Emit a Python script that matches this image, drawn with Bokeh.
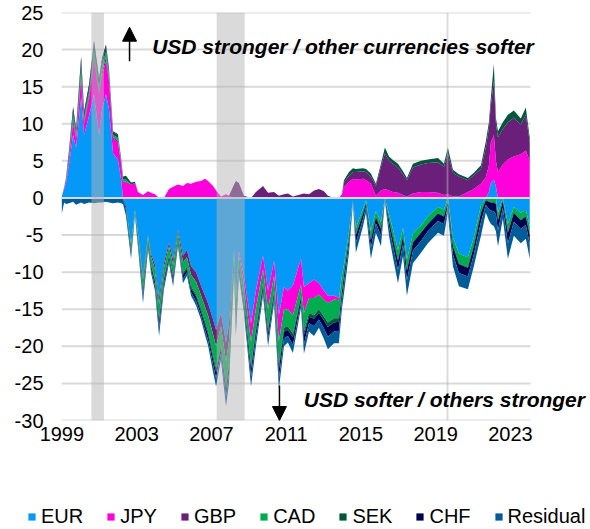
import numpy as np
from bokeh.plotting import figure
from bokeh.layouts import column
from bokeh.models import (Range1d, FixedTicker, Label, Arrow, NormalHead, Legend,
                          LegendItem, ColumnDataSource)
from bokeh.embed import file_html
from bokeh.resources import INLINE

# ---------------- data ----------------
t = [1999.61, 1999.74, 1999.84, 2000.00, 2000.22, 2000.38, 2000.65, 2000.81, 2001.07, 2001.34,
     2001.61, 2001.77, 2001.98, 2002.14, 2002.36, 2002.62, 2002.79, 2002.89,
     2003.05, 2003.32, 2003.53, 2003.69, 2003.96, 2004.23, 2004.39, 2004.60, 2004.82, 2005.08,
     2005.35, 2005.57, 2005.83, 2006.10, 2006.31, 2006.53, 2006.80, 2007.06, 2007.28, 2007.44,
     2007.71, 2007.87, 2008.13, 2008.40, 2008.56, 2008.83, 2008.93, 2009.09, 2009.36, 2009.74,
     2010.00, 2010.38, 2010.65, 2010.97, 2011.23, 2011.50, 2011.71, 2011.98, 2012.41, 2012.57,
     2012.84, 2013.11, 2013.37, 2013.64, 2013.85, 2014.18, 2014.44, 2014.60,
     2014.71, 2014.98, 2015.19, 2015.35, 2015.73, 2015.89, 2016.15, 2016.42, 2016.69, 2016.90,
     2017.12, 2017.33, 2017.60, 2017.87, 2018.08, 2018.40, 2018.83, 2019.20, 2019.74, 2020.06,
     2020.27, 2020.54, 2020.86, 2021.34, 2021.66, 2022.04, 2022.30, 2022.46, 2022.57, 2022.73,
     2022.84, 2022.95, 2023.21, 2023.48, 2023.80, 2024.17, 2024.44, 2024.65]

eur = [0.2, 1.2, 2.0, 4.5, 8.5, 6.8, 13.5, 8.5, 11.0, 14.0, 8.5, 12.0, 14.0, 12.0, 6.0, 5.2, 2.5, 0.0,
       -1.2, -6.3, -1.6, -4.8, -10.5, -5.0, -7.5, -9.0, -13.5, -8.8, -6.0, -8.3, -4.3, -7.8, -7.0, -9.2,
       -10.0, -11.8, -13.2, -14.2, -16.4, -17.8, -15.5, -19.5, -17.0, -7.0, -14.0, -7.2, -10.5, -16.9,
       -12.5, -7.8, -12.5, -8.5, -15.8, -12.0, -12.5, -11.8, -8.2, -12.0, -11.5, -11.0, -11.5, -12.5,
       -13.2, -13.2, -13.5, -10.5,
       -9.0, -4.5, -0.3, -4.0, -1.5, -0.3, -4.5, -1.8, -3.2, 0.0, -2.2, -4.2, -7.0, -4.0, -8.3, -4.8,
       -3.7, -2.5, -1.2, -1.6, 0.0, -5.3, -7.5, -8.0, -5.3, -1.0, 0.0, 0.8, 2.0, 2.5, 1.5, -2.0, 0.0,
       -3.5, -1.2, -2.0, -1.6, -3.8]

jpy = [0.0, 0.2, 0.4, 0.8, 1.5, 1.2, 2.5, 1.5, 2.2, 4.5, 5.5, 4.5, 4.5, 3.8, 2.0, 2.3, 2.2, 2.2,
       2.2, 1.8, 2.0, 0.8, 0.4, 0.9, 0.7, 0.5, 0.0, 0.0, 1.2, 1.5, 1.8, 1.6, 2.0, 1.9, 2.2, 2.3, 2.6,
       2.3, 1.6, 1.0, 0.2, 0.5, 0.3, 0.0, 0.0, -0.5, -1.2, -2.5, -2.4, -1.8, -2.5, -2.0, -3.5, -3.0,
       -2.5, -4.0, -3.5, -3.5, -2.0, -2.5, -1.5, -1.2, -1.0, -0.5, -0.3, 0.5,
       1.5, 2.2, 2.6, 2.5, 2.6, 2.4, 1.9, 0.3, 1.0, 1.2, 1.0, 0.8, 0.7, 0.4, 0.2, 0.6, 0.8, 0.8, 0.7,
       0.4, 0.5, 0.2, 0.2, 0.8, 1.2, 1.9, 2.8, 3.5, 5.5, 6.0, 3.5, 3.5, 4.5, 5.2, 5.6, 5.9, 6.4, 5.0]

gbp = [0, 0, 0, 0.2, 0.5, 0.3, 0.6, 0.3, 0.4, 0.6, 0.4, 0.5, 0.5, 0.4, 0.2, 0.2, 0, 0,
       0, 0, 0, 0, -0.5, -0.2, -0.4, -0.6, -0.8, -0.6, -0.5, -0.7, -0.4, -0.9, -1.0, -1.2, -1.3, -1.3,
       -1.5, -1.6, -2.0, -2.2, -1.8, -2.5, -2.2, 1.8, 2.3, 2.0, 0.3, 0.0, 0.8, 1.6, 0.7, 0.8, 0.3, 0.5,
       0.6, 0.2, 0.5, 0.6, 0.5, 1.0, 1.2, 0.9, 0.3, 0.0, 0.0, 0.0,
       0.6, 0.8, 0.9, 1.0, 1.0, 1.1, 1.0, 1.3, 3.2, 4.8, 4.0, 3.8, 3.4, 2.8, 2.2, 3.5, 3.7, 3.9, 4.1,
       3.8, 5.5, 3.2, 2.7, 1.6, 1.9, 2.0, 4.0, 5.0, 5.0, 7.3, 5.0, 4.7, 4.8, 5.0, 5.2, 4.0, 4.8, 2.5]

cad = [0, 0, 0.1, 0.3, 0.6, 0.4, 0.8, 0.5, 0.6, 0.8, 0.6, 0.8, 0.7, 0.6, 0.3, 0.4, 0.3, 0.3,
       0.3, -0.8, -0.4, -0.8, -1.5, -0.8, -1.1, -1.4, -2.0, -1.4, -1.2, -1.5, -0.9, -1.4, -1.3, -1.5,
       -1.7, -1.8, -2.0, -2.2, -2.8, -3.0, -2.5, -3.3, -3.0, -1.5, -2.4, -1.4, -2.0, -3.2, -2.7, -1.9,
       -2.7, -2.0, -3.2, -2.5, -2.3, -2.5, -1.5, -2.5, -2.0, -2.3, -2.0, -2.3, -2.6, -2.5, -2.4, -1.8,
       -1.5, -1.0, -0.1, -1.0, -0.6, -0.4, -1.2, -0.8, -1.0, -0.1, -0.8, -1.2, -1.5, -1.2, -1.5, -1.2,
       -1.0, -1.0, -0.9, -0.9, -0.5, -1.2, -1.4, -1.4, -1.2, -1.0, -0.3, -0.5, -0.6, -0.6, -0.8, -1.0,
       -0.4, -1.2, -0.8, -1.0, -0.9, -1.2]

sek = [0, 0, 0.1, 0.3, 0.6, 0.4, 0.9, 0.5, 0.6, 0.8, 0.7, 0.7, 0.7, 0.5, 0.4, 0.4, 0.4, 0.4,
       0.5, 0.3, 0.2, -0.1, -0.3, -0.2, -0.2, -0.3, -0.4, -0.3, -0.2, -0.3, -0.2, -0.3, -0.3, -0.3,
       -0.3, -0.4, -0.4, -0.4, -0.5, -0.5, -0.4, -0.6, -0.5, -0.3, -0.4, -0.3, -0.4, -0.5, -0.5, -0.4,
       -0.5, -0.4, -0.6, -0.5, -0.5, -0.5, -0.3, -0.5, -0.5, -0.5, -0.5, -0.5, -0.6, -0.6, -0.5, -0.4,
       0.3, 0.5, 0.5, 0.4, 0.4, 0.4, 0.4, 0.3, 0.4, 0.8, 0.6, 0.5, 0.5, 0.4, 0.3, 0.5, 0.5, 0.5, 0.6,
       0.4, 0.8, 0.4, 0.3, 0.3, 0.3, 0.5, 0.8, 0.8, 1.0, 2.3, 0.8, 0.8, 0.9, 1.0, 1.0, 0.8, 1.0, 0.6]

chf = [0, 0, 0.1, 0.3, 0.6, 0.3, 0.8, 0.4, 0.5, 0.5, 0.4, 0.4, 0.3, 0.2, 0.1, 0.1, 0, 0,
       -0.4, -0.4, -0.2, -0.4, -0.6, -0.3, -0.4, -0.5, -0.8, -0.5, -0.4, -0.5, -0.3, -0.5, -0.4, -0.5,
       -0.6, -0.5, -0.7, -0.7, -0.8, -0.8, -0.7, -0.9, -0.9, -0.6, -0.8, -0.5, -0.6, -1.0, -0.8, -0.6,
       -0.8, -0.6, -1.2, -0.9, -0.8, -1.0, -0.6, -1.2, -0.9, -1.0, -0.9, -1.1, -1.3, -1.2, -1.2, -1.0,
       -1.0, -0.8, -0.1, -1.0, -0.7, -0.5, -1.0, -0.8, -0.9, -0.1, -0.8, -1.0, -1.2, -1.0, -1.3, -1.1,
       -1.1, -1.0, -1.0, -1.0, -0.6, -1.1, -1.2, -1.2, -1.1, -1.2, -0.6, -1.0, -1.1, -1.2, -1.4, -1.4,
       -0.9, -1.4, -1.2, -1.2, -1.1, -1.2]

res = [-2.2, -0.6, -0.8, -0.7, -0.5, -0.9, -0.6, -0.8, -0.6, -0.7, -0.6, -0.6, -0.5, -0.6, -0.7, -0.6, -0.7, -0.8,
       -0.8, -0.7, -0.2, -0.5, -0.8, -0.4, -0.5, -0.7, -1.1, -0.7, -0.5, -0.6, -0.4, -0.6, -0.5, -0.5,
       -0.6, -0.6, -0.7, -0.8, -1.0, -1.1, -0.9, -1.3, -1.4, -0.7, -1.0, -0.6, -0.8, -1.3, -1.1, -0.7,
       -1.0, -0.7, -1.5, -1.1, -0.9, -1.1, -0.7, -1.3, -1.1, -1.3, -1.1, -1.4, -1.7, -1.6, -1.7, -1.3,
       -1.4, -1.1, -0.2, -1.4, -1.0, -0.8, -1.5, -1.3, -1.4, -0.2, -1.3, -1.6, -1.8, -1.6, -2.1, -1.7,
       -1.6, -1.6, -1.6, -1.6, -0.9, -1.6, -1.8, -1.7, -1.6, -1.9, -1.1, -1.5, -1.8, -2.0, -2.3, -2.1,
       -1.5, -2.1, -1.9, -1.9, -1.9, -2.0]

series_names = ["EUR", "JPY", "GBP", "CAD", "SEK", "CHF", "Residual"]
series_vals = [eur, jpy, gbp, cad, sek, chf, res]
series_colors = ["#0599f7", "#ff00dc", "#6a1f7a", "#00ad4e", "#00573a", "#00004f", "#005b99"]

# US recessions (shaded)
rec_start = [2001.20, 2007.90, 2020.20]
rec_end = [2001.87, 2009.40, 2020.30]

y_ticks = [-30, -25, -20, -15, -10, -5, 0, 5, 10, 15, 20, 25]
x_tick_years = [1999, 2003, 2007, 2011, 2015, 2019, 2023]

for s in series_vals:
    assert len(s) == len(t), len(s)

# ---------------- main figure ----------------
FONT = "Liberation Sans"
LABEL_OFFSET = 0.62      # year labels sit near mid-year
X_START = 1999.60        # left edge of plot area
GRID_END = 2024.69       # right end of the plotted period / gridlines
X_END = 2027.90          # frame runs on to the right so the notes are not clipped

p = figure(width=590, height=495,
           x_range=Range1d(X_START, X_END), y_range=Range1d(-30, 25),
           output_backend="svg", toolbar_location=None,
           min_border_left=61, min_border_right=0, min_border_top=12, min_border_bottom=75)
p.outline_line_color = None
p.background_fill_color = "white"
p.border_fill_color = "white"
p.xgrid.visible = False
p.ygrid.visible = False

p.yaxis.ticker = FixedTicker(ticks=y_ticks)
p.yaxis.major_label_overrides = {v: str(v) for v in y_ticks}
xt = [y + LABEL_OFFSET for y in x_tick_years]
p.xaxis.ticker = FixedTicker(ticks=xt)
p.xaxis.major_label_overrides = {v: str(y) for v, y in zip(xt, x_tick_years)}

for ax in (p.xaxis, p.yaxis):
    ax.axis_line_color = None
    ax.major_tick_line_color = None
    ax.minor_tick_line_color = None
    ax.major_tick_in = 0
    ax.major_tick_out = 0
    ax.major_label_text_font = FONT
    ax.major_label_text_font_size = "20px"
    ax.major_label_text_color = "#000000"
p.yaxis.major_label_standoff = 18
p.xaxis.major_label_standoff = 6

# horizontal gridlines, only across the plotted period
p.segment(x0=X_START, x1=GRID_END, y0=y_ticks, y1=y_ticks,
          line_color="#d9d9d9", line_width=2)

# ---------------- stacked areas (positive and negative stacks) ----------------
x = np.array(t)
pos_base = np.zeros(len(t))
neg_base = np.zeros(len(t))
sources = []
for name, vals, col in zip(series_names, series_vals, series_colors):
    v = np.array(vals, dtype=float)
    pos_top = pos_base + np.clip(v, 0, None)
    neg_top = neg_base + np.clip(v, None, 0)
    src_p = ColumnDataSource(dict(x=x, y1=pos_base.copy(), y2=pos_top.copy()))
    src_n = ColumnDataSource(dict(x=x, y1=neg_base.copy(), y2=neg_top.copy()))
    p.varea(x="x", y1="y1", y2="y2", source=src_p, fill_color=col)
    p.varea(x="x", y1="y1", y2="y2", source=src_n, fill_color=col)
    sources.append(src_n)
    pos_base, neg_base = pos_top, neg_top

# zero line above the areas
p.segment(x0=X_START, x1=GRID_END, y0=0, y1=0, line_color="#d9d9d9", line_width=2)

# recession shading over the data
p.quad(left=rec_start, right=rec_end, bottom=-30, top=25,
       fill_color="#b5b5b5", fill_alpha=0.5, line_color=None)

# ---------------- annotations ----------------
p.add_layout(Arrow(end=NormalHead(size=14, fill_color="black", line_color="black"),
                   x_start=2003.24, y_start=18.43, x_end=2003.24, y_end=23.02,
                   line_color="black", line_width=1.5))
p.add_layout(Arrow(end=NormalHead(size=14, fill_color="black", line_color="black"),
                   x_start=2011.26, y_start=-25.28, x_end=2011.26, y_end=-30.0,
                   line_color="black", line_width=1.5))
p.add_layout(Label(x=2004.45, y=20.44, text="USD stronger / other currencies softer",
                   text_font=FONT, text_font_size="21px", text_font_style="bold italic",
                   text_color="#000000", text_baseline="middle", text_align="left"))
p.add_layout(Label(x=2012.56, y=-27.17, text="USD softer / others stronger",
                   text_font=FONT, text_font_size="21px", text_font_style="bold italic",
                   text_color="#000000", text_baseline="middle", text_align="left"))

# ---------------- legend strip ----------------
lg = figure(width=590, height=34, x_range=Range1d(0, 1), y_range=Range1d(0, 1),
            x_axis_type=None, y_axis_type=None, output_backend="svg", toolbar_location=None,
            min_border=0)
if "frame_align" in lg.properties():
    lg.frame_align = False
lg.outline_line_color = None
lg.xgrid.visible = False
lg.ygrid.visible = False
items = []
for name, col, src in zip(series_names, series_colors, sources):
    # legend swatch renderer: same data, lies outside this strip's ranges so only the swatch shows
    r = lg.varea(x="x", y1="y1", y2="y2", source=src, fill_color=col)
    items.append(LegendItem(label=name, renderers=[r]))
legend = Legend(items=items, orientation="horizontal", location=(27, 1),
                glyph_width=9, glyph_height=9, label_standoff=5, spacing=23,
                padding=0, margin=0, border_line_color=None, background_fill_alpha=0,
                label_text_font=FONT, label_text_font_size="20px", label_text_color="#000000",
                label_height=20)
lg.add_layout(legend)

layout = column(p, lg, spacing=0)
open("out.html", "w").write(file_html(layout, INLINE))
